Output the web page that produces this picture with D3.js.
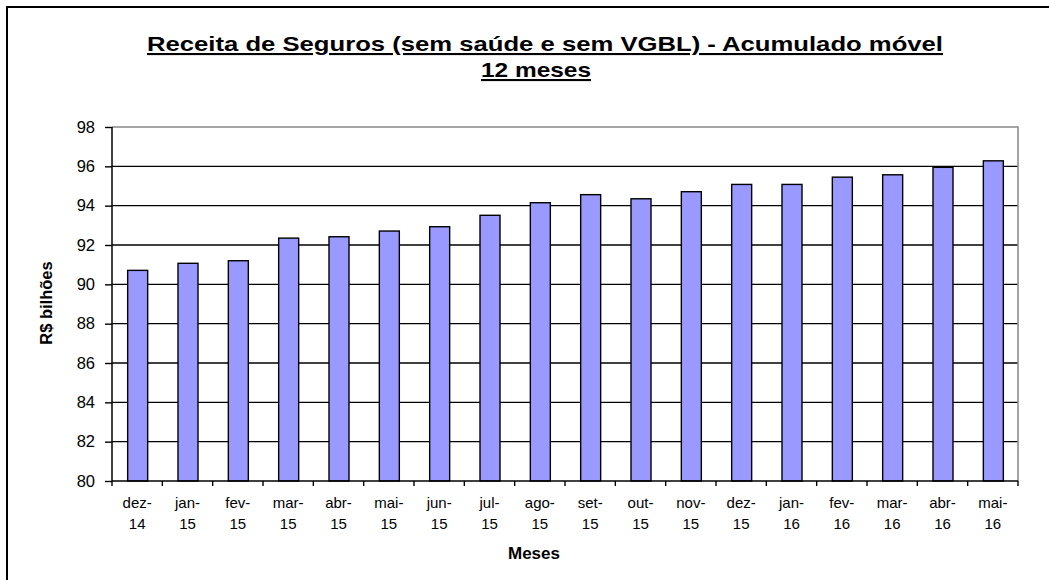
<!DOCTYPE html>
<html>
<head>
<meta charset="utf-8">
<script src="https://cdn.jsdelivr.net/npm/d3@7"></script>
<style>
  body { margin: 0; background: #fff; }
  text { font-family: "Liberation Sans", Arial, sans-serif; fill: #000; }
</style>
</head>
<body>
<script>
var width = 1049,
    height = 580;

// dados
var months = ["dez-14", "jan-15", "fev-15", "mar-15", "abr-15", "mai-15", "jun-15", "jul-15", "ago-15",
              "set-15", "out-15", "nov-15", "dez-15", "jan-16", "fev-16", "mar-16", "abr-16", "mai-16"];
var receita = [90.71, 91.07, 91.20, 92.35, 92.42, 92.71, 92.93, 93.51, 94.15,
               94.56, 94.35, 94.71, 95.08, 95.08, 95.45, 95.57, 95.95, 96.28];
var yTicks = [80, 82, 84, 86, 88, 90, 92, 94, 96, 98];

var plotLeft = 112, plotRight = 1018, plotTop = 127, plotBottom = 481;

var svg = d3.select("body").append("svg")
    .attr("width", width)
    .attr("height", height);

// moldura externa
svg.append("rect")
    .attr("x", 7).attr("y", 7)
    .attr("width", width + 10).attr("height", height + 10)
    .attr("fill", "none")
    .attr("stroke", "#000")
    .attr("stroke-width", 2);

var x = d3.scaleBand()
    .domain(months)
    .range([plotLeft, plotRight]);

var y = d3.scaleLinear()
    .domain([80, 98])
    .range([plotBottom, plotTop]);

// grade
svg.append("g").selectAll("line")
    .data(yTicks.filter(function (d) { return d > 80 && d < 98; }))
    .enter().append("line")
    .attr("x1", plotLeft).attr("x2", plotRight)
    .attr("y1", function (d) { return y(d); })
    .attr("y2", function (d) { return y(d); })
    .attr("stroke", "#000")
    .attr("stroke-width", 1.4);

// borda superior e direita cinza
svg.append("path")
    .attr("d", "M" + plotLeft + "," + y(98) + "H" + plotRight + "V" + plotBottom)
    .attr("fill", "none")
    .attr("stroke", "#888")
    .attr("stroke-width", 1.5);

// barras
var barW = 20;
svg.append("g").selectAll("rect")
    .data(receita)
    .enter().append("rect")
    .attr("x", function (d, i) { return x(months[i]) + x.bandwidth() / 2 - barW / 2 + 0.5; })
    .attr("y", function (d) { return y(d); })
    .attr("width", barW)
    .attr("height", function (d) { return y(80) - y(d); })
    .attr("fill", "#9999ff")
    .attr("stroke", "#000")
    .attr("stroke-width", 1.4);

// eixo y
var yAxis = d3.axisLeft(y)
    .tickValues(yTicks)
    .tickSize(7)
    .tickPadding(10)
    .tickFormat(d3.format("d"));

var gy = svg.append("g")
    .attr("transform", "translate(" + plotLeft + ",0)")
    .call(yAxis);
gy.select(".domain").attr("stroke-width", 1.5).attr("d", "M0," + plotTop + "V" + plotBottom);
gy.selectAll(".tick line").attr("stroke-width", 1.4);
gy.selectAll(".tick text")
    .attr("font-size", 16.5)
    .attr("font-family", "Liberation Sans, Arial, sans-serif");

// eixo x: traços nas divisas das categorias
var boundaries = months.map(function (m) { return x(m); }).concat([plotRight]);
svg.append("line")
    .attr("x1", plotLeft).attr("x2", plotRight)
    .attr("y1", plotBottom).attr("y2", plotBottom)
    .attr("stroke", "#000").attr("stroke-width", 1.5);
svg.append("g").selectAll("line")
    .data(boundaries)
    .enter().append("line")
    .attr("x1", function (d) { return d; })
    .attr("x2", function (d) { return d; })
    .attr("y1", plotBottom).attr("y2", plotBottom + 5)
    .attr("stroke", "#000").attr("stroke-width", 1.4);

var xl = svg.append("g").selectAll("text")
    .data(months)
    .enter().append("text")
    .attr("text-anchor", "middle")
    .attr("font-size", 15)
    .attr("transform", function (d) { return "translate(" + (x(d) + x.bandwidth() / 2) + ",0)"; });
xl.append("tspan")
    .attr("x", 0).attr("y", 508)
    .text(function (d) { return d.split("-")[0] + "-"; });
xl.append("tspan")
    .attr("x", 0).attr("y", 529)
    .text(function (d) { return d.split("-")[1]; });

// titulos dos eixos
svg.append("text")
    .attr("x", 534).attr("y", 559)
    .attr("text-anchor", "middle")
    .attr("font-size", 17)
    .attr("font-weight", "bold")
    .text("Meses");

svg.append("text")
    .attr("transform", "translate(52,303) rotate(-90)")
    .attr("text-anchor", "middle")
    .attr("font-size", 16.5)
    .attr("font-weight", "bold")
    .text("R$ bilhões");

// titulo
var title = svg.append("g")
    .attr("font-size", 21)
    .attr("font-weight", "bold");
title.append("text")
    .attr("x", 545).attr("y", 51)
    .attr("text-anchor", "middle")
    .attr("text-decoration", "underline")
    .attr("textLength", 796)
    .attr("lengthAdjust", "spacingAndGlyphs")
    .text("Receita de Seguros (sem saúde e sem VGBL) - Acumulado móvel");
title.append("text")
    .attr("x", 536).attr("y", 77)
    .attr("text-anchor", "middle")
    .attr("text-decoration", "underline")
    .attr("textLength", 110)
    .attr("lengthAdjust", "spacingAndGlyphs")
    .text("12 meses");
</script>
</body>
</html>
